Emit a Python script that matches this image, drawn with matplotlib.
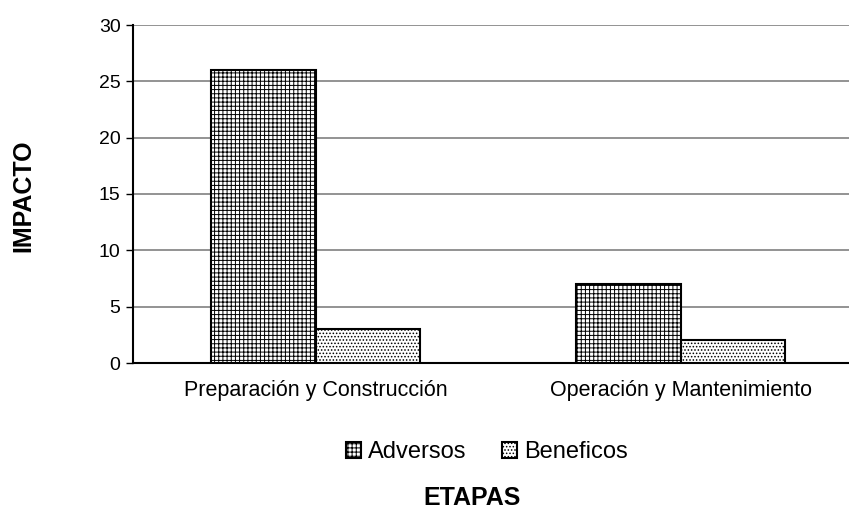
import matplotlib.pyplot as plt
import numpy as np

plt.rcParams['font.family'] = ['Liberation Sans', 'DejaVu Sans']
plt.rcParams['hatch.linewidth'] = 0.7

etapas = ['Preparación y Construcción', 'Operación y Mantenimiento']
adversos = [26, 7]
beneficos = [3, 2]

W, H = 849, 512
fig = plt.figure(figsize=(W / 100, H / 100), dpi=100)
ax = fig.add_axes([133 / W, 1 - 363 / H, (849 - 133) / W, (363 - 25) / H])

x = np.arange(len(etapas))
bw = 0.286
ax.bar(x - bw / 2, adversos, bw, color='white', edgecolor='black', hatch='++++',
       linewidth=1.5, label='Adversos', zorder=3)
ax.bar(x + bw / 2, beneficos, bw, color='white', edgecolor='black', hatch='.....',
       linewidth=1.5, label='Beneficos', zorder=3)

ax.set_xlim(-0.5, 1.5 - 14 / 364)
ax.set_ylim(0, 30)
ax.set_yticks(range(0, 31, 5))
ax.yaxis.grid(True, color='#808080', linewidth=1.2, zorder=0)
ax.set_xticks(x)
ax.set_xticklabels(etapas, fontsize=15.5)
ax.tick_params(axis='x', length=0, pad=12)
ax.tick_params(axis='y', labelsize=14, length=5, width=1, direction='out', pad=4)
for s in ['top', 'right']:
    ax.spines[s].set_visible(False)
ax.spines['left'].set_linewidth(1.5)
ax.spines['bottom'].set_linewidth(1.5)

fig.text(23 / W, 1 - 196 / H, 'IMPACTO', rotation=90, ha='center', va='center',
         fontsize=18, fontweight='bold')
fig.text(472 / W, 1 - 498 / H, 'ETAPAS', ha='center', va='center',
         fontsize=18, fontweight='bold')

leg = fig.legend(loc='center', bbox_to_anchor=(487 / W, 1 - 452 / H), ncol=2,
                 frameon=False, fontsize=17, handlelength=0.65, handleheight=0.65,
                 handletextpad=0.3, columnspacing=1.5)

fig.savefig('out.png', dpi=100)
